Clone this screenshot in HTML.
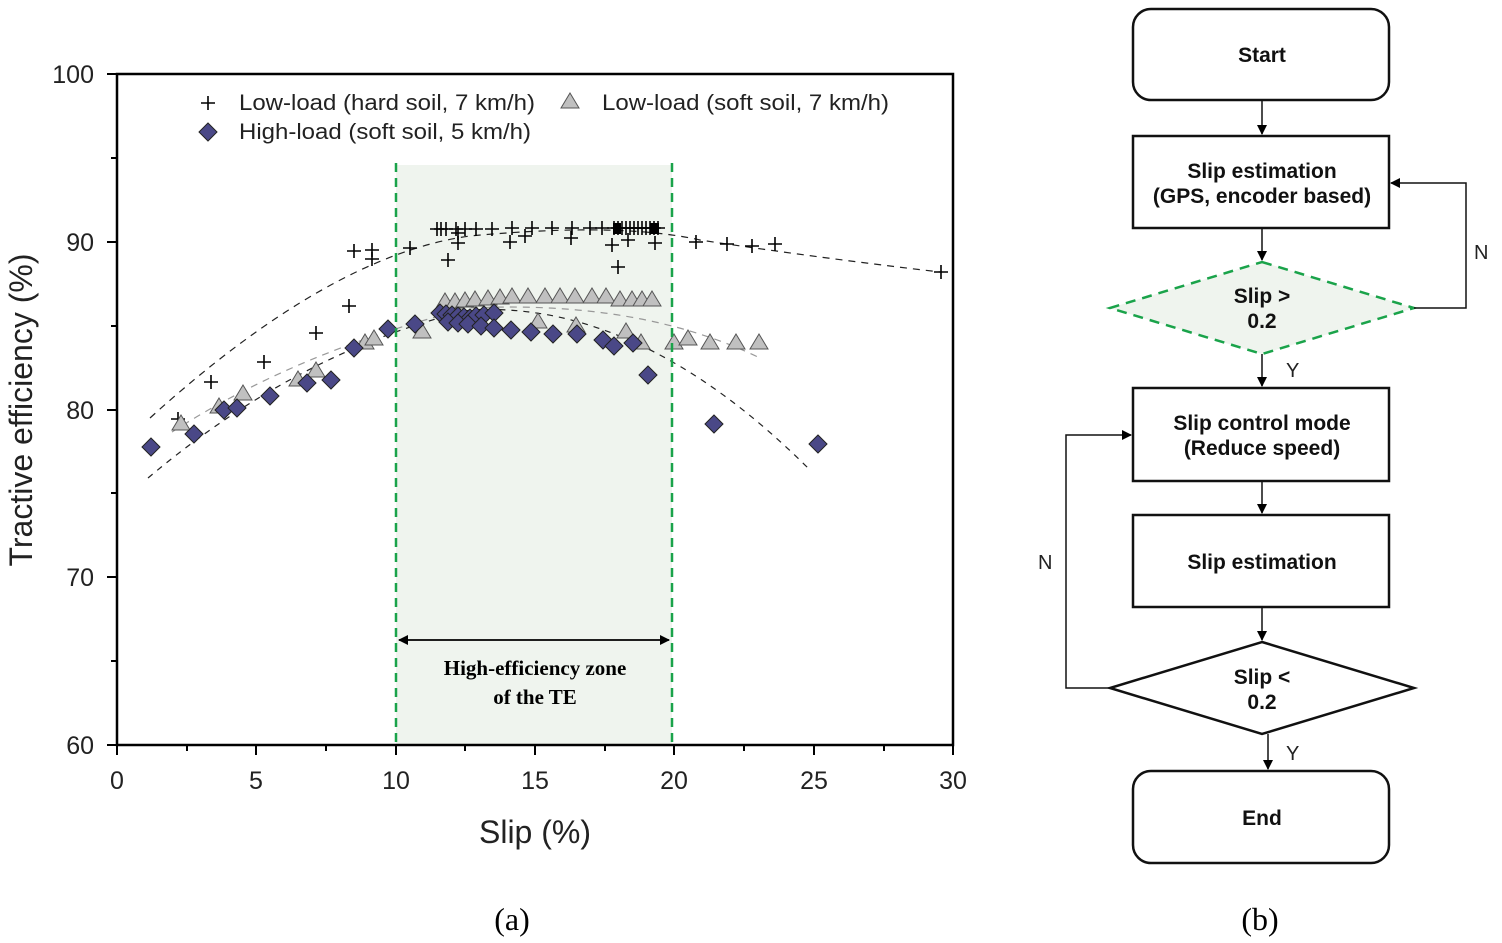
<!DOCTYPE html>
<html><head><meta charset="utf-8"><style>
html,body{margin:0;padding:0;background:#fff;}
svg{display:block;}
.s{font-family:"Liberation Sans",sans-serif;}
.f{font-family:"Liberation Sans","NanumGothic",sans-serif;font-weight:bold;font-size:21px;fill:#111;}
</style></head><body>
<svg width="1502" height="943" viewBox="0 0 1502 943" xmlns="http://www.w3.org/2000/svg">
<defs>
<path id="cr" d="M-7 0H7M0 -7V7" stroke="#000" stroke-width="1.6" fill="none"/>
<path id="tr" d="M0 -9L9 6H-9Z" fill="#c0c0c0" stroke="#555" stroke-width="1"/>
<path id="dm" d="M0 -9L9 0L0 9L-9 0Z" fill="#4a4887" stroke="#222" stroke-width="1"/>
<marker id="ah" markerWidth="10" markerHeight="10" refX="9" refY="5" orient="auto" markerUnits="userSpaceOnUse"><path d="M0 0L10 5L0 10Z" fill="#000"/></marker>
</defs>
<rect x="396" y="165" width="276" height="580" fill="#eff4ee"/>
<path d="M150 418 Q330 255 470 236 Q620 222 700 240 Q820 258 940 272" fill="none" stroke="#222" stroke-width="1.2" stroke-dasharray="7 6"/>
<path d="M172 432 Q300 350 470 308 Q640 300 760 358" fill="none" stroke="#999" stroke-width="1.2" stroke-dasharray="7 6"/>
<path d="M148 478 Q300 350 470 310 Q640 300 810 470" fill="none" stroke="#222" stroke-width="1.2" stroke-dasharray="6 6"/>
<g>
<use href="#cr" x="178" y="419"/><use href="#cr" x="211" y="382"/><use href="#cr" x="264" y="362"/><use href="#cr" x="316" y="333"/><use href="#cr" x="349" y="306"/><use href="#cr" x="354" y="251"/><use href="#cr" x="372" y="250"/><use href="#cr" x="372" y="259"/><use href="#cr" x="410" y="248"/><use href="#cr" x="448" y="260"/><use href="#cr" x="458" y="243"/><use href="#cr" x="458" y="233"/>
<use href="#cr" x="437" y="229"/><use href="#cr" x="441" y="229"/><use href="#cr" x="446" y="229"/><use href="#cr" x="456" y="229"/><use href="#cr" x="465" y="229"/><use href="#cr" x="476" y="229"/><use href="#cr" x="492" y="229"/><use href="#cr" x="512" y="228"/><use href="#cr" x="532" y="228"/><use href="#cr" x="552" y="228"/><use href="#cr" x="572" y="228"/><use href="#cr" x="590" y="228"/><use href="#cr" x="602" y="228"/>
<use href="#cr" x="510" y="242"/><use href="#cr" x="525" y="236"/><use href="#cr" x="571" y="238"/><use href="#cr" x="612" y="245"/><use href="#cr" x="628" y="240"/><use href="#cr" x="655" y="243"/><use href="#cr" x="618" y="267"/>
<use href="#cr" x="614" y="228"/><use href="#cr" x="618" y="228"/><use href="#cr" x="622" y="228"/><use href="#cr" x="626" y="228"/><use href="#cr" x="630" y="228"/><use href="#cr" x="634" y="228"/><use href="#cr" x="638" y="228"/><use href="#cr" x="642" y="228"/><use href="#cr" x="646" y="228"/><use href="#cr" x="650" y="228"/><use href="#cr" x="654" y="228"/><use href="#cr" x="658" y="228"/>
<rect x="613" y="223" width="8" height="11" fill="#000"/><rect x="650" y="223" width="9" height="11" fill="#000"/>
<use href="#cr" x="696" y="242"/><use href="#cr" x="727" y="244"/><use href="#cr" x="752" y="246"/><use href="#cr" x="775" y="244"/><use href="#cr" x="941" y="272"/>
</g>
<g>
<use href="#tr" x="181" y="424"/><use href="#tr" x="219" y="407"/><use href="#tr" x="243" y="394"/><use href="#tr" x="298" y="380"/><use href="#tr" x="316" y="371"/><use href="#tr" x="365" y="343"/><use href="#tr" x="374" y="339"/><use href="#tr" x="422" y="332"/>
<use href="#tr" x="445" y="302"/><use href="#tr" x="455" y="302"/><use href="#tr" x="465" y="301"/><use href="#tr" x="475" y="300"/><use href="#tr" x="488" y="299"/><use href="#tr" x="500" y="298"/><use href="#tr" x="512" y="297"/><use href="#tr" x="528" y="297"/><use href="#tr" x="545" y="297"/><use href="#tr" x="560" y="297"/><use href="#tr" x="575" y="297"/><use href="#tr" x="592" y="297"/><use href="#tr" x="606" y="297"/><use href="#tr" x="620" y="300"/><use href="#tr" x="632" y="300"/><use href="#tr" x="642" y="300"/><use href="#tr" x="652" y="300"/>
<use href="#tr" x="538" y="322"/><use href="#tr" x="576" y="326"/><use href="#tr" x="626" y="332"/><use href="#tr" x="641" y="343"/><use href="#tr" x="674" y="343"/><use href="#tr" x="688" y="339"/><use href="#tr" x="710" y="343"/><use href="#tr" x="736" y="343"/><use href="#tr" x="759" y="343"/>
</g>
<g>
<use href="#dm" x="151" y="447"/><use href="#dm" x="194" y="434"/><use href="#dm" x="224" y="410"/><use href="#dm" x="237" y="408"/><use href="#dm" x="270" y="396"/><use href="#dm" x="307" y="383"/><use href="#dm" x="331" y="380"/><use href="#dm" x="354" y="348"/><use href="#dm" x="388" y="329"/><use href="#dm" x="415" y="324"/>
<use href="#dm" x="440" y="313"/><use href="#dm" x="446" y="314"/><use href="#dm" x="452" y="315"/><use href="#dm" x="458" y="316"/><use href="#dm" x="464" y="317"/><use href="#dm" x="470" y="318"/><use href="#dm" x="476" y="316"/><use href="#dm" x="484" y="315"/><use href="#dm" x="494" y="313"/>
<use href="#dm" x="448" y="322"/><use href="#dm" x="458" y="323"/><use href="#dm" x="468" y="324"/><use href="#dm" x="481" y="326"/><use href="#dm" x="494" y="328"/><use href="#dm" x="511" y="330"/><use href="#dm" x="531" y="332"/><use href="#dm" x="553" y="334"/><use href="#dm" x="577" y="334"/><use href="#dm" x="603" y="340"/><use href="#dm" x="614" y="346"/><use href="#dm" x="633" y="343"/><use href="#dm" x="648" y="375"/><use href="#dm" x="714" y="424"/><use href="#dm" x="818" y="444"/>
</g>
<line x1="396" y1="163" x2="396" y2="745" stroke="#1aa34a" stroke-width="2.5" stroke-dasharray="9 6"/>
<line x1="672" y1="163" x2="672" y2="745" stroke="#1aa34a" stroke-width="2.5" stroke-dasharray="9 6"/>
<line x1="399" y1="640" x2="669" y2="640" stroke="#000" stroke-width="1.5" marker-end="url(#ah)"/>
<line x1="669" y1="640" x2="399" y2="640" stroke="#000" stroke-width="1.5" marker-end="url(#ah)"/>
<text x="535" y="675" text-anchor="middle" font-family="Liberation Serif,serif" font-weight="bold" font-size="21">High-efficiency zone</text>
<text x="535" y="704" text-anchor="middle" font-family="Liberation Serif,serif" font-weight="bold" font-size="21">of the TE</text>
<rect x="117" y="74" width="836" height="671" fill="none" stroke="#000" stroke-width="2.5"/>
<g stroke="#000" stroke-width="2">
<path d="M117 745v10M256 745v10M396 745v10M535 745v10M674 745v10M814 745v10M953 745v10"/>
<path d="M187 745v6M326 745v6M465 745v6M605 745v6M744 745v6M884 745v6"/>
<path d="M117 74h-10M117 242h-10M117 410h-10M117 577h-10M117 745h-10"/>
<path d="M117 158h-6M117 326h-6M117 493h-6M117 661h-6"/>
</g>
<g class="s" font-size="25" fill="#222" text-anchor="middle">
<text x="117" y="789">0</text><text x="256" y="789">5</text><text x="396" y="789">10</text><text x="535" y="789">15</text><text x="674" y="789">20</text><text x="814" y="789">25</text><text x="953" y="789">30</text>
</g>
<g class="s" font-size="25" fill="#222" text-anchor="end">
<text x="94" y="83">100</text><text x="94" y="251">90</text><text x="94" y="419">80</text><text x="94" y="586">70</text><text x="94" y="754">60</text>
</g>
<text x="535" y="843" text-anchor="middle" class="s" font-size="32" fill="#222">Slip (%)</text>
<text transform="translate(32 410) rotate(-90)" text-anchor="middle" class="s" font-size="32" fill="#222">Tractive efficiency (%)</text>
<use href="#cr" x="208" y="103"/>
<text x="239" y="110" class="s" font-size="22" fill="#222" textLength="296" lengthAdjust="spacingAndGlyphs">Low-load (hard soil, 7 km/h)</text>
<use href="#tr" x="570" y="102"/>
<text x="602" y="110" class="s" font-size="22" fill="#222" textLength="287" lengthAdjust="spacingAndGlyphs">Low-load (soft soil, 7 km/h)</text>
<use href="#dm" x="208" y="132"/>
<text x="239" y="139" class="s" font-size="22" fill="#222" textLength="292" lengthAdjust="spacingAndGlyphs">High-load (soft soil, 5 km/h)</text>
<text x="512" y="930" text-anchor="middle" font-family="Liberation Serif,serif" font-size="32">(a)</text>
<text x="1260" y="930" text-anchor="middle" font-family="Liberation Serif,serif" font-size="32">(b)</text>
<g fill="#fff" stroke="#111" stroke-width="2.5">
<rect x="1133" y="9" width="256" height="91" rx="18"/>
<rect x="1133" y="136" width="256" height="92"/>
<rect x="1133" y="388" width="256" height="93"/>
<rect x="1133" y="515" width="256" height="92"/>
<path d="M1262 642L1414 688L1262 734L1110 688Z"/>
<rect x="1133" y="771" width="256" height="92" rx="18"/>
</g>
<path d="M1262 262L1414 308L1262 354L1110 308Z" fill="#eff4ee" stroke="#1aa34a" stroke-width="2.5" stroke-dasharray="10 7"/>
<g stroke="#111" stroke-width="1.5" fill="none">
<line x1="1262" y1="100" x2="1262" y2="134" marker-end="url(#ah)"/>
<line x1="1262" y1="228" x2="1262" y2="260" marker-end="url(#ah)"/>
<line x1="1262" y1="354" x2="1262" y2="386" marker-end="url(#ah)"/>
<line x1="1262" y1="481" x2="1262" y2="513" marker-end="url(#ah)"/>
<line x1="1262" y1="607" x2="1262" y2="640" marker-end="url(#ah)"/>
<line x1="1268" y1="734" x2="1268" y2="769" marker-end="url(#ah)"/>
<path d="M1414 308H1466V183H1391" marker-end="url(#ah)"/>
<path d="M1110 688H1066V435H1131" marker-end="url(#ah)"/>
</g>
<g class="f" text-anchor="middle">
<text x="1262" y="62">Start</text>
<text x="1262" y="178">Slip estimation</text>
<text x="1262" y="203">(GPS, encoder based)</text>
<text x="1262" y="303">Slip &gt;</text>
<text x="1262" y="328">0.2</text>
<text x="1262" y="430">Slip control mode</text>
<text x="1262" y="455">(Reduce speed)</text>
<text x="1262" y="569">Slip estimation</text>
<text x="1262" y="684">Slip &lt;</text>
<text x="1262" y="709">0.2</text>
<text x="1262" y="825">End</text>
</g>
<g class="s" font-size="20" fill="#222">
<text x="1474" y="259">N</text>
<text x="1038" y="569">N</text>
<text x="1286" y="377">Y</text>
<text x="1286" y="760">Y</text>
</g>
</svg>
</body></html>
